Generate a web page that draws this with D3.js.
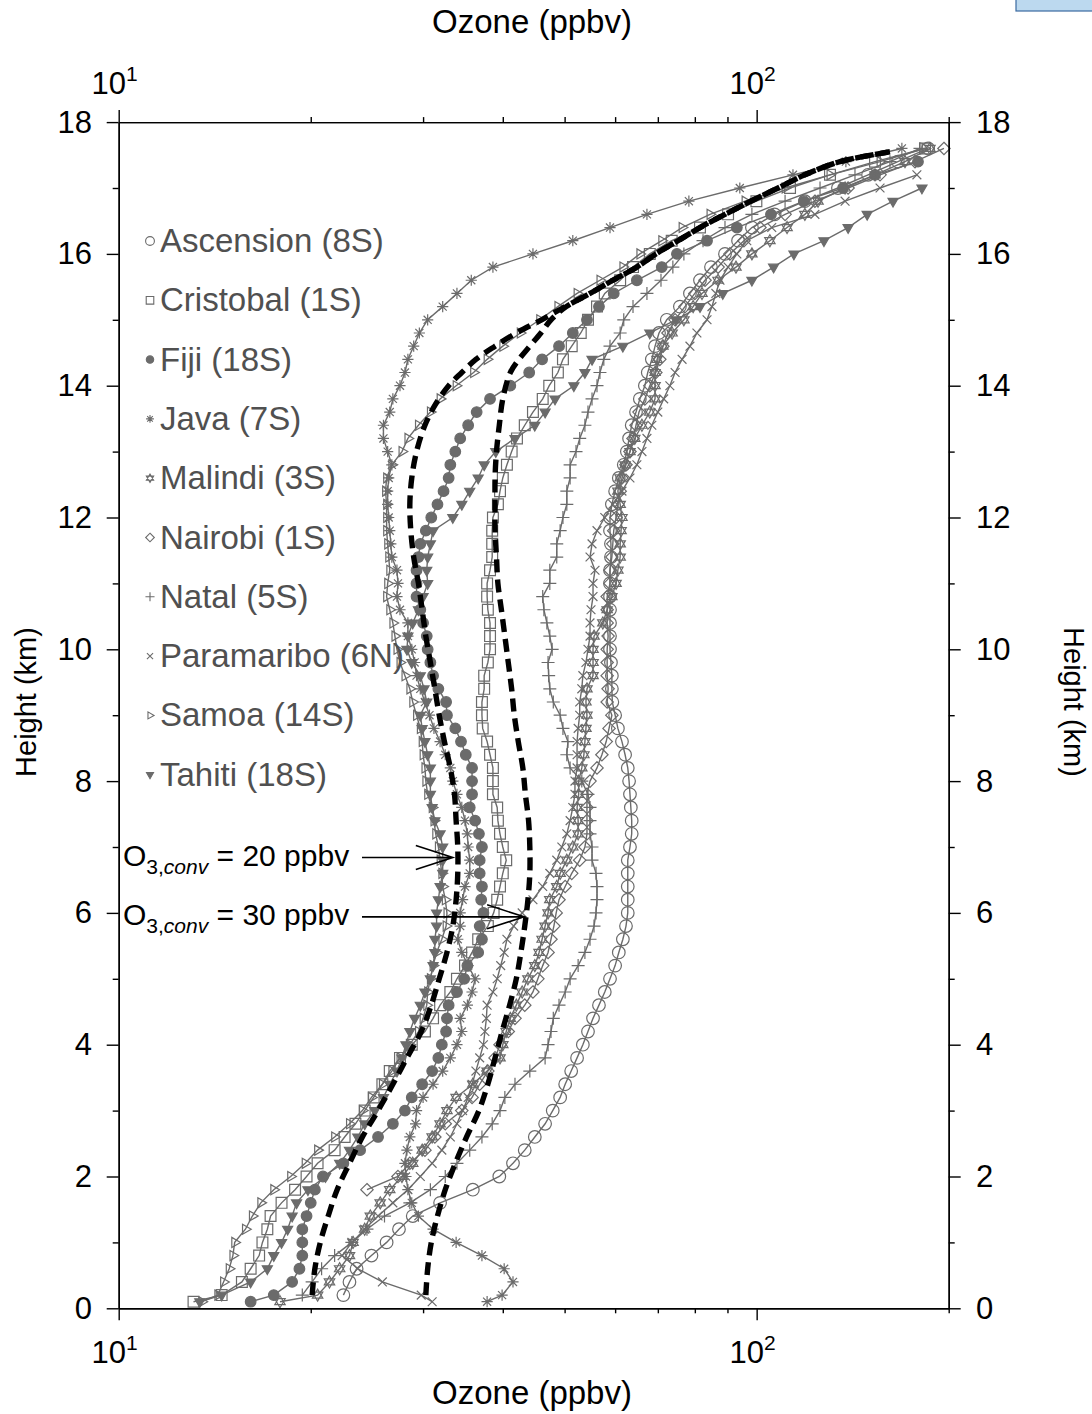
<!DOCTYPE html>
<html><head><meta charset="utf-8">
<script src="https://cdn.jsdelivr.net/npm/d3@7"></script>
<style>
body{margin:0;background:#fff;}
svg{display:block;}
text{font-family:"Liberation Sans",Arial,Helvetica,sans-serif;}
</style>
</head><body>
<svg id="chart" width="1092" height="1414"></svg>
<script>
// ---------------- DATA ----------------
const HEIGHTS = [0.1,0.2,0.4,0.6,0.8,1.0,1.2,1.4,1.6,1.8,2.0,2.2,2.4,2.6,2.8,3.0,3.2,3.4,3.6,3.8,4.0,4.2,4.4,4.6,4.8,5.0,5.2,5.4,5.6,5.8,6.0,6.2,6.4,6.6,6.8,7.0,7.2,7.4,7.6,7.8,8.0,8.2,8.4,8.6,8.8,9.0,9.2,9.4,9.6,9.8,10.0,10.2,10.4,10.6,10.8,11.0,11.2,11.4,11.6,11.8,12.0,12.2,12.4,12.6,12.8,13.0,13.2,13.4,13.6,13.8,14.0,14.2,14.4,14.6,14.8,15.0,15.2,15.4,15.6,15.8,16.0,16.2,16.4,16.6,16.8,17.0,17.2,17.4,17.6];

const STATIONS = ["Ascension (8S)","Cristobal (1S)","Fiji (18S)","Java (7S)","Malindi (3S)","Nairobi (1S)","Natal (5S)","Paramaribo (6N)","Samoa (14S)","Tahiti (18S)"];
const MARKERS  = ["circle","square","dot","asterisk","david","diamond","plus","times","triRight","triDown"];

const ascension = [null,
 22.5,23.0,23.6,24.9,26.3,27.5,28.9,31.9,35.9,39.5,
 41.5,43.3,44.9,46.6,47.9,49.2,50.1,51.2,52.3,53.4,
 54.4,55.4,56.6,57.8,58.9,60.0,60.8,61.7,62.4,62.8,
 62.8,62.8,62.8,62.8,63.3,63.7,63.7,63.5,63.3,63.1,
 62.8,62.2,61.5,60.6,60.0,59.4,59.3,59.3,59.1,58.9,
 58.9,58.9,58.9,58.9,58.9,58.9,59.1,59.1,58.9,58.9,
 59.3,60.0,60.8,61.9,62.6,63.1,63.7,64.7,65.6,66.8,
 67.5,68.5,69.3,70.3,72.3,75.8,78.6,81.5,84.8,89.2,
 93.5,98.3,106.7,119.0,134.1,149.5,166.5,185.7];
const cristobal = [13.1,
 14.5,15.6,16.1,16.6,16.8,17.1,17.3,18.0,18.9,19.7,
 20.5,21.8,22.6,23.5,24.3,25.1,25.9,26.6,27.6,28.8,
 30.2,31.1,31.9,33.1,33.9,34.9,35.8,36.6,37.9,38.7,
 39.2,39.6,40.0,40.5,40.0,39.6,39.3,39.2,38.6,38.6,
 38.6,38.2,37.8,37.2,37.1,37.1,37.4,37.4,37.9,38.2,
 38.2,38.2,37.9,37.8,37.8,38.2,38.5,38.5,38.5,38.6,
 39.3,39.6,40.0,40.6,41.3,42.1,43.3,44.6,46.2,47.3,
 48.8,49.7,51.3,53.0,54.4,56.2,57.8,61.1,64.0,68.0,
 73.6,81.5,90.2,99.9,112.8,130.3,153.3,183.6];
const fiji = [16.1,
 17.5,18.7,19.2,19.4,19.4,19.4,19.7,20.0,20.3,20.9,
 22.5,23.9,25.5,26.9,28.1,28.8,29.9,31.0,31.7,32.1,
 32.6,32.7,32.9,33.9,34.8,35.2,36.6,37.1,36.8,37.3,
 37.0,37.1,36.8,36.8,37.1,36.7,36.2,35.5,35.8,35.8,
 35.8,35.0,34.4,33.7,32.7,32.6,31.7,31.1,30.8,30.5,
 30.4,30.0,29.7,29.3,29.3,29.3,29.5,29.7,30.3,30.9,
 31.6,32.3,32.9,33.1,33.7,34.3,35.3,36.4,38.2,41.1,
 44.0,46.1,49.0,51.5,54.2,56.6,59.7,64.9,71.0,75.0,
 83.6,93.1,105.3,118.6,136.6,153.3,179.0,null];
const java = [37.8,
 39.9,41.5,40.2,37.1,33.8,31.1,29.5,28.8,28.4,28.2,
 28.1,28.3,28.6,29.2,29.3,30.0,31.1,32.2,33.1,33.9,
 34.5,34.3,35.2,35.8,36.2,35.3,34.5,34.0,34.3,34.3,
 34.6,34.9,35.5,35.5,35.3,35.2,34.9,34.5,33.9,33.4,
 33.1,32.5,31.9,31.2,30.7,30.2,29.7,29.3,29.1,28.8,
 28.4,28.4,27.6,27.3,27.4,27.3,26.8,26.7,26.6,26.5,
 26.4,26.4,26.5,26.8,26.4,26.0,26.0,26.6,26.9,27.6,
 28.1,28.4,29.0,29.6,30.5,32.2,33.9,35.7,38.6,44.6,
 51.5,58.9,67.3,78.3,94.1,114.0,138.0,168.9];
const malindi = [17.9,
 20.5,21.4,22.2,23.0,23.3,24.3,24.8,25.7,26.6,27.8,
 28.9,29.9,31.0,31.9,32.7,33.8,35.9,37.8,39.6,40.0,
 40.5,41.1,42.0,42.9,43.8,44.9,45.6,46.1,46.6,47.1,
 47.4,48.6,49.2,50.4,51.5,52.5,52.5,52.3,52.6,52.6,
 53.2,53.6,53.8,54.0,54.2,54.0,54.2,55.4,55.4,55.4,
 55.6,57.4,58.3,59.3,60.2,60.6,61.1,61.1,61.3,61.5,
 61.1,60.6,61.1,62.2,63.3,64.4,66.1,68.0,69.3,69.3,
 69.3,69.8,71.3,73.7,76.9,79.5,82.1,87.0,92.8,98.3,
 104.9,111.6,119.0,124.8,137.6,153.3,170.8,186.9];
const nairobi = [null,
 null,null,null,null,null,null,null,null,24.5,27.4,
 28.6,30.2,31.3,32.5,34.5,35.8,36.8,37.9,38.9,39.6,
 40.8,41.8,43.3,44.6,45.4,46.2,47.1,47.6,48.1,48.5,
 49.0,50.1,51.3,52.8,53.8,54.2,54.2,54.2,54.2,54.8,
 56.2,57.2,58.1,58.7,59.3,58.3,58.5,58.3,58.3,58.3,
 58.5,58.3,58.3,58.3,58.9,58.9,59.3,59.5,59.7,60.2,
 60.6,61.1,61.5,62.4,63.3,64.0,64.7,65.4,66.8,68.0,
 69.5,70.5,71.3,72.6,74.5,77.2,80.0,83.0,87.0,90.8,
 95.5,101.2,110.8,123.4,139.1,156.1,177.1,196.6];
const natal = [null,
 19.4,20.1,20.8,21.8,23.2,24.5,26.1,28.6,30.8,32.5,
 33.9,35.5,37.1,38.5,39.6,40.3,41.8,44.1,46.6,47.1,
 47.6,48.0,49.0,50.1,51.0,52.5,53.8,54.8,55.6,56.0,
 56.2,56.2,56.0,55.2,55.2,54.8,54.8,54.8,54.4,53.2,
 51.0,50.4,50.6,49.7,49.2,48.0,47.4,47.2,47.1,47.8,
 47.4,46.9,46.4,46.2,47.4,47.4,48.6,48.6,49.2,49.7,
 50.4,50.4,51.0,51.0,52.1,52.8,53.8,54.4,55.2,56.2,
 56.8,57.6,58.9,61.1,61.9,64.0,67.3,70.8,73.9,76.9,
 82.4,89.2,98.3,110.8,125.7,142.6,161.8,180.3];
const paramaribo = [31.0,
 29.8,25.9,23.7,22.4,23.2,24.3,25.5,26.9,28.4,29.7,
 31.0,32.1,33.1,33.9,34.6,35.3,35.8,36.3,36.8,37.3,
 37.5,37.7,37.8,38.6,39.2,39.7,40.2,40.6,41.6,42.9,
 44.6,46.2,47.4,48.6,49.5,50.4,51.0,51.5,51.9,51.9,
 52.3,52.3,52.3,52.5,52.8,52.8,53.2,53.4,54.0,54.4,
 54.8,54.8,55.0,55.4,55.4,55.8,54.8,55.2,56.2,57.8,
 59.5,61.5,63.3,64.9,66.1,67.3,68.5,70.0,71.5,73.1,
 74.5,76.4,78.6,80.6,83.6,85.1,86.3,87.6,90.2,93.1,
 96.5,105.6,123.4,137.6,156.1,178.3,null,null];
const samoa = [13.5,
 14.3,14.6,14.9,15.1,15.2,15.8,16.2,16.7,17.5,18.6,
 19.6,20.5,21.8,23.0,24.1,24.9,25.9,26.8,27.6,28.6,
 29.5,30.0,30.4,30.5,30.8,31.1,31.5,32.1,32.6,32.7,
 32.5,32.2,32.1,31.9,31.7,31.4,31.2,31.0,30.5,30.3,
 30.2,30.0,29.9,29.7,29.3,28.9,28.6,28.1,27.6,27.3,
 27.1,26.9,26.6,26.3,26.4,26.6,26.5,26.4,26.3,26.3,
 26.3,26.2,26.3,26.8,27.8,28.4,29.5,30.8,31.9,33.8,
 36.0,37.8,40.0,42.6,45.7,48.8,52.3,56.8,61.7,65.6,
 71.0,76.4,84.5,95.9,110.8,130.3,156.1,183.6];
const tahiti = [13.4,
 14.5,16.1,17.1,17.5,18.0,18.4,18.7,19.0,19.8,21.1,
 22.2,23.0,23.7,24.3,25.2,26.0,26.6,27.3,27.8,28.2,
 28.6,29.1,29.7,30.2,30.8,31.1,31.3,31.3,31.5,31.5,
 31.7,31.9,32.2,32.2,32.2,31.9,31.3,31.0,30.8,30.8,
 30.8,30.5,30.2,29.9,29.7,30.4,30.1,29.7,28.8,28.3,
 28.4,28.9,29.5,30.0,30.5,30.4,30.5,30.8,31.1,33.4,
 34.5,35.5,36.6,37.4,39.0,41.8,44.9,46.6,48.3,51.7,
 53.8,55.2,61.7,68.0,74.7,81.5,88.5,98.3,106.3,114.4,
 127.5,139.1,149.0,163.6,181.6,null,null,null];

const SERIES = [ascension,cristobal,fiji,java,malindi,nairobi,natal,paramaribo,samoa,tahiti];

// Convective-ozone model profiles (thick dashed)
const conv20Height = [0.2,0.6,1.0,1.4,1.8,2.2,2.6,3.0,3.4,3.8,4.2,4.6,5.0,5.4,5.8,6.2,6.6,7.0,7.4,7.8,8.2,8.6,9.0,9.4,9.8,10.2,10.6,11.0,11.4,11.8,12.2,12.6,13.0,13.4,13.7,14.0,14.2,14.4,14.6,14.8,15.0,15.2,15.4,15.6,15.8,16.0,16.2,16.4,16.6,16.8,17.0,17.2,17.4,17.55];
const conv20Ozone  = [20.1,20.3,20.7,21.3,22.0,23.0,24.1,25.5,26.9,28.3,29.8,30.9,31.8,32.7,33.4,33.8,34.0,34.0,33.8,33.6,33.1,32.4,31.8,31.3,30.8,30.3,29.9,29.5,29.0,28.7,28.6,28.8,29.3,30.2,31.3,32.9,34.5,36.3,38.9,42.0,46.0,50.1,54.8,59.5,64.9,69.5,75.3,81.5,89.2,97.9,108.0,119.0,135.1,161.8];
const conv30Height = [0.2,0.6,1.0,1.4,1.8,2.2,2.6,3.0,3.4,3.8,4.2,4.6,5.0,5.4,5.8,6.2,6.6,7.0,7.4,7.8,8.2,8.6,9.0,9.4,9.8,10.2,10.6,11.0,11.4,11.8,12.2,12.6,13.0,13.4,13.8,14.2,14.4,14.6,14.8,15.0,15.2,15.4,15.6,15.8,16.0,16.2,16.4,16.6,16.8,17.0,17.2,17.4,17.55];
const conv30Ozone  = [30.3,30.5,30.9,31.6,32.5,33.7,35.1,36.7,37.9,38.9,39.9,41.0,42.0,42.7,43.3,43.8,44.1,44.1,43.9,43.4,43.0,42.3,41.7,41.3,40.8,40.3,39.8,39.3,39.1,38.9,38.9,38.9,39.1,39.5,40.0,41.1,42.4,44.1,45.9,47.6,50.3,54.8,59.5,64.9,69.5,75.3,81.5,89.2,97.9,108.0,119.0,135.1,161.8];

// annotations: label value, height of arrow, ozone at arrow tip
const ANNOT_LABELS = ["20","30"];
const ANNOT_HEIGHT = [6.84, 5.94];
const ANNOT_TIP    = [33.4, 43.2];

const X_MAJOR = [10,100];
const X_MINOR = [20,30,40,50,60,70,80,90,200];
const Y_MAJOR = [0,2,4,6,8,10,12,14,16,18];
const Y_MINOR = [1,3,5,7,9,11,13,15,17];

// ---------------- DRAW ----------------
const svg = d3.select("#chart");
const L = 118.7, R = 948.7, T = 122.1, B = 1308.3;
const x = d3.scaleLog().domain([10,200]).range([L,R]);
const y = d3.scaleLinear().domain([0,18]).range([B,T]);
const GRAY = "#6b6b6b";

// decoration top-right (cropped logo)
svg.append("rect").attr("x",1016).attr("y",-6).attr("width",80).attr("height",17)
  .attr("fill","#bcd9ef").attr("stroke","#3b6aa0").attr("stroke-width",1.2);

function markerPath(type, s){
  const a = s;
  switch(type){
    case "circle": case "dot":
      return `M${-a},0a${a},${a} 0 1,0 ${2*a},0a${a},${a} 0 1,0 ${-2*a},0Z`;
    case "square": return `M${-a},${-a}H${a}V${a}H${-a}Z`;
    case "asterisk": { const b=a*0.72; return `M0,${-a}V${a}M${-a},0H${a}M${-b},${-b}L${b},${b}M${-b},${b}L${b},${-b}`; }
    case "david": { const c=a*0.866; return `M0,${-a}L${c},${a/2}L${-c},${a/2}ZM0,${a}L${c},${-a/2}L${-c},${-a/2}Z`; }
    case "diamond": return `M0,${-a}L${a},0L0,${a}L${-a},0Z`;
    case "plus": return `M0,${-a}V${a}M${-a},0H${a}`;
    case "times": return `M${-a},${-a}L${a},${a}M${-a},${a}L${a},${-a}`;
    case "triRight": { const c=a*0.866; return `M${a},0L${-a/2},${-c}L${-a/2},${c}Z`; }
    case "triDown": { const c=a*0.866; return `M0,${a}L${c},${-a/2}L${-c},${-a/2}Z`; }
  }
}
const MSIZE = {circle:6.3, square:5.4, dot:5.3, asterisk:5.6, david:6.0, diamond:6.2, plus:6.5, times:4.4, triRight:5.8, triDown:5.8};
const FILLED = {dot:true, triDown:true};

const line = d3.line().x(d=>x(d.o)).y(d=>y(d.h));
const gData = svg.append("g");
SERIES.forEach((arr,i)=>{
  const pts = [];
  arr.forEach((v,k)=>{ if(v!=null) pts.push({h:HEIGHTS[k], o:v}); });
  const g = gData.append("g");
  g.append("path").datum(pts).attr("d",line).attr("fill","none")
    .attr("stroke",GRAY).attr("stroke-width",1.4);
  const m = MARKERS[i];
  g.selectAll("path.m").data(pts).join("path").attr("class","m")
    .attr("transform",d=>`translate(${x(d.o)},${y(d.h)})`)
    .attr("d",markerPath(m,MSIZE[m]))
    .attr("fill",FILLED[m]?GRAY:"none")
    .attr("stroke",GRAY).attr("stroke-width",1.2);
});

// dashed model profiles
const curve = d3.line().x(d=>x(d.o)).y(d=>y(d.h)).curve(d3.curveCatmullRom.alpha(0.5));
[[conv20Height,conv20Ozone],[conv30Height,conv30Ozone]].forEach(([hs,os])=>{
  const pts = hs.map((h,k)=>({h, o:os[k]}));
  svg.append("path").datum(pts).attr("d",curve).attr("fill","none")
    .attr("stroke","#000").attr("stroke-width",5.4).attr("stroke-dasharray","13,7");
});

// axes
const axG = svg.append("g");
function styleAxis(g){ g.selectAll("path.domain").attr("stroke","#000").attr("stroke-width",1.4);
  g.selectAll(".tick line").attr("stroke","#000").attr("stroke-width",1.4); g.selectAll(".tick text").remove(); }
axG.append("g").attr("transform",`translate(0,${B})`).call(d3.axisBottom(x).tickValues(X_MINOR).tickSize(5).tickSizeOuter(0).tickFormat("")).call(styleAxis);
axG.append("g").attr("transform",`translate(0,${B})`).call(d3.axisBottom(x).tickValues(X_MAJOR).tickSize(12).tickSizeOuter(0).tickFormat("")).call(styleAxis);
axG.append("g").attr("transform",`translate(0,${T})`).call(d3.axisTop(x).tickValues(X_MINOR).tickSize(5).tickSizeOuter(0).tickFormat("")).call(styleAxis);
axG.append("g").attr("transform",`translate(0,${T})`).call(d3.axisTop(x).tickValues(X_MAJOR).tickSize(12).tickSizeOuter(0).tickFormat("")).call(styleAxis);
axG.append("g").attr("transform",`translate(${L},0)`).call(d3.axisLeft(y).tickValues(Y_MINOR).tickSize(6).tickSizeOuter(0).tickFormat("")).call(styleAxis);
axG.append("g").attr("transform",`translate(${L},0)`).call(d3.axisLeft(y).tickValues(Y_MAJOR).tickSize(12).tickSizeOuter(0).tickFormat("")).call(styleAxis);
axG.append("g").attr("transform",`translate(${R},0)`).call(d3.axisRight(y).tickValues(Y_MINOR).tickSize(6).tickSizeOuter(0).tickFormat("")).call(styleAxis);
axG.append("g").attr("transform",`translate(${R},0)`).call(d3.axisRight(y).tickValues(Y_MAJOR).tickSize(12).tickSizeOuter(0).tickFormat("")).call(styleAxis);

// x tick labels (10^n)
function powLabel(v, yBase){
  const t = svg.append("text").attr("x",x(v)-4).attr("y",yBase).attr("text-anchor","middle")
    .attr("font-size",31).attr("fill","#000");
  t.append("tspan").text("10");
  t.append("tspan").attr("font-size",21).attr("dy",-13).text(String(Math.round(Math.log10(v))));
}
X_MAJOR.forEach(v=>{ powLabel(v,94); powLabel(v,1363); });

// y tick labels
Y_MAJOR.forEach(v=>{
  svg.append("text").attr("x",92).attr("y",y(v)).attr("dominant-baseline","central")
    .attr("text-anchor","end").attr("font-size",31).text(v);
  svg.append("text").attr("x",976).attr("y",y(v)).attr("dominant-baseline","central")
    .attr("text-anchor","start").attr("font-size",31).text(v);
});

// axis titles
svg.append("text").attr("x",532).attr("y",33).attr("text-anchor","middle").attr("font-size",33).text("Ozone (ppbv)");
svg.append("text").attr("x",532).attr("y",1404).attr("text-anchor","middle").attr("font-size",33).text("Ozone (ppbv)");
svg.append("text").attr("transform","translate(26,702) rotate(-90)").attr("text-anchor","middle")
  .attr("dominant-baseline","central").attr("font-size",29).text("Height (km)");
svg.append("text").attr("transform","translate(1074,702) rotate(90)").attr("text-anchor","middle")
  .attr("dominant-baseline","central").attr("font-size",29).text("Height (km)");

// legend
const lg = svg.append("g");
STATIONS.forEach((name,i)=>{
  const by = 252 + i*59.3;
  const m = MARKERS[i];
  lg.append("path").attr("transform",`translate(150,${by-11})`)
    .attr("d",markerPath(m,MSIZE[m]*0.7))
    .attr("fill",FILLED[m]?GRAY:"none").attr("stroke",GRAY).attr("stroke-width",1.1);
  lg.append("text").attr("x",160).attr("y",by).attr("font-size",33).attr("fill","#505050").text(name);
});

// annotations
ANNOT_LABELS.forEach((lab,i)=>{
  const yy = y(ANNOT_HEIGHT[i]);
  const t = svg.append("text").attr("x",123).attr("y",yy+8).attr("font-size",30).attr("fill","#000");
  t.append("tspan").text("O");
  t.append("tspan").attr("font-size",21).attr("dy",8).text("3,");
  t.append("tspan").attr("font-size",21).attr("font-style","italic").text("conv");
  t.append("tspan").attr("dy",-8).text(" = " + lab + " ppbv");
  const tip = x(ANNOT_TIP[i]);
  svg.append("path").attr("d",`M362,${yy}H${tip}M${tip-37},${yy-12}L${tip},${yy}L${tip-37},${yy+12}`)
    .attr("fill","none").attr("stroke","#000").attr("stroke-width",1.6);
});
</script>
</body></html>
